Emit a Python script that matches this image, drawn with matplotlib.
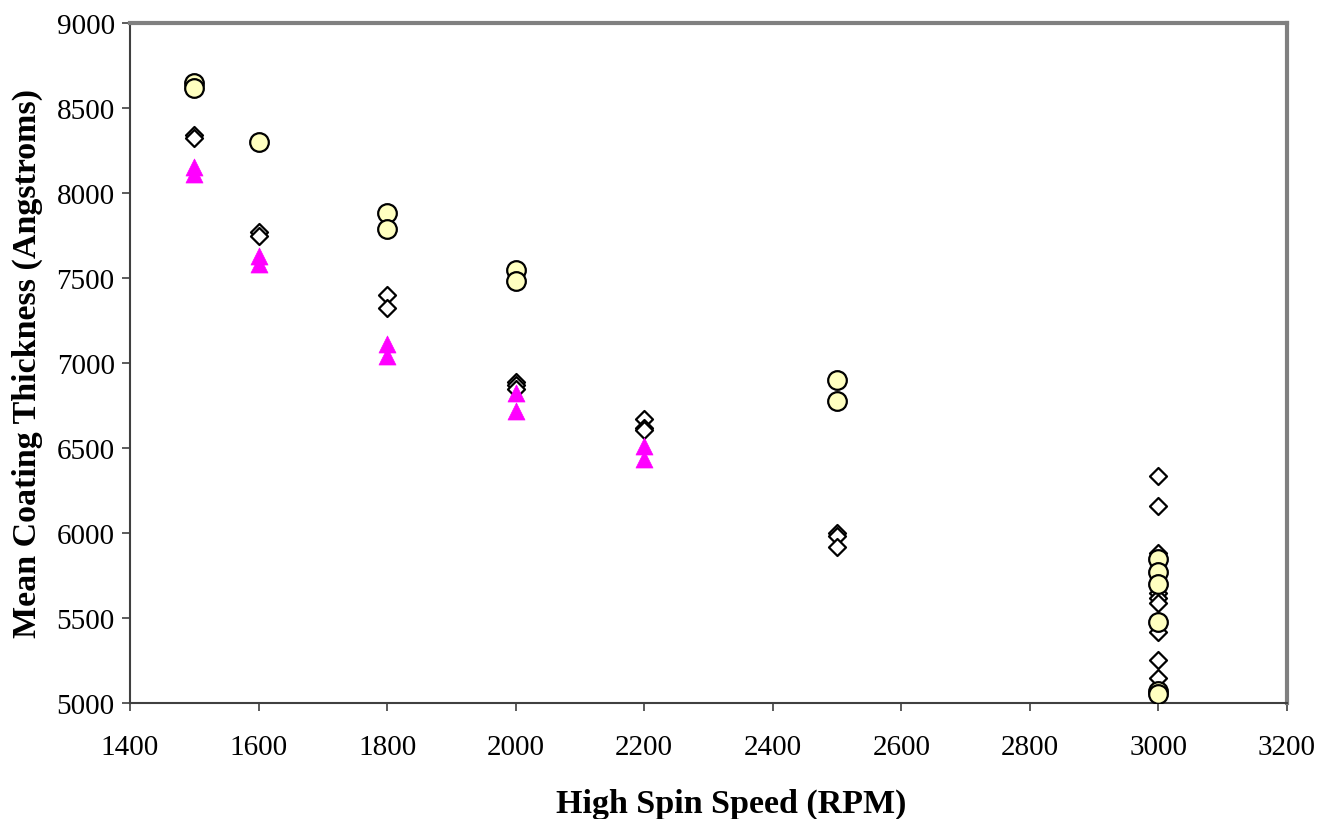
import matplotlib
matplotlib.use("Agg")
import matplotlib.pyplot as plt

# spin speed (RPM) and mean coating thickness (Angstroms) for each series
circle_x = [1500, 1500, 1600, 1800, 1800, 2000, 2000, 2500, 2500,
            3000, 3000, 3000, 3000, 3000, 3000]
circle_y = [8650, 8620, 8300, 7880, 7790, 7550, 7480, 6900, 6775,
            5845, 5770, 5700, 5475, 5070, 5055]

diamond_x = [1500, 1500, 1600, 1600, 1800, 1800, 2000, 2000, 2000,
             2200, 2200, 2200, 2500, 2500, 2500,
             3000, 3000, 3000, 3000, 3000, 3000, 3000, 3000, 3000]
diamond_y = [8340, 8325, 7770, 7745, 7400, 7325, 6890, 6870, 6845,
             6670, 6615, 6605, 6000, 5985, 5915,
             6335, 6160, 5880, 5650, 5620, 5590, 5415, 5255, 5145]

triangle_x = [1500, 1500, 1600, 1600, 1800, 1800, 2000, 2000, 2200, 2200]
triangle_y = [8155, 8110, 7630, 7580, 7110, 7040, 6825, 6720, 6510, 6435]

x_ticks = list(range(1400, 3201, 200))
y_ticks = list(range(5000, 9001, 500))

plt.rcParams['font.family'] = ['Liberation Serif', 'DejaVu Serif']

fig = plt.figure(figsize=(13.22, 8.2), dpi=100)
ax = fig.add_axes([130 / 1322, 1 - 704 / 820, 1157 / 1322, 680 / 820])

ax.scatter(diamond_x, diamond_y, marker='D', s=75, facecolor='white',
           edgecolor='black', linewidth=1.6, zorder=3)
ax.scatter(triangle_x, triangle_y, marker='^', s=150, facecolor='#ff00ff',
           edgecolor='#ff00ff', linewidth=0.5, zorder=4)
ax.scatter(circle_x, circle_y, marker='o', s=180, facecolor='#ffffc0',
           edgecolor='black', linewidth=1.6, zorder=5)

ax.set_xlim(1400, 3200)
ax.set_ylim(5000, 9000)
ax.set_xticks(x_ticks)
ax.set_yticks(y_ticks)
ax.tick_params(direction='out', length=6, width=1.2, color='#404040',
               labelsize=21, pad=5)
ax.tick_params(axis='x', pad=16)

for side in ['top', 'right']:
    ax.spines[side].set_color('#808080')
    ax.spines[side].set_linewidth(3)
for side in ['left', 'bottom']:
    ax.spines[side].set_color('#404040')
    ax.spines[side].set_linewidth(1.5)

ax.set_xlabel('High Spin Speed (RPM)', fontsize=24.5, fontweight='bold')
ax.set_ylabel('Mean Coating Thickness (Angstroms)', fontsize=24.5,
              fontweight='bold')
# the original labels sit a bit off the axes centre
ax.xaxis.set_label_coords(0.52, -0.125)
ax.yaxis.set_label_coords(-0.075, 0.5)

fig.savefig('out.png', dpi=100)
